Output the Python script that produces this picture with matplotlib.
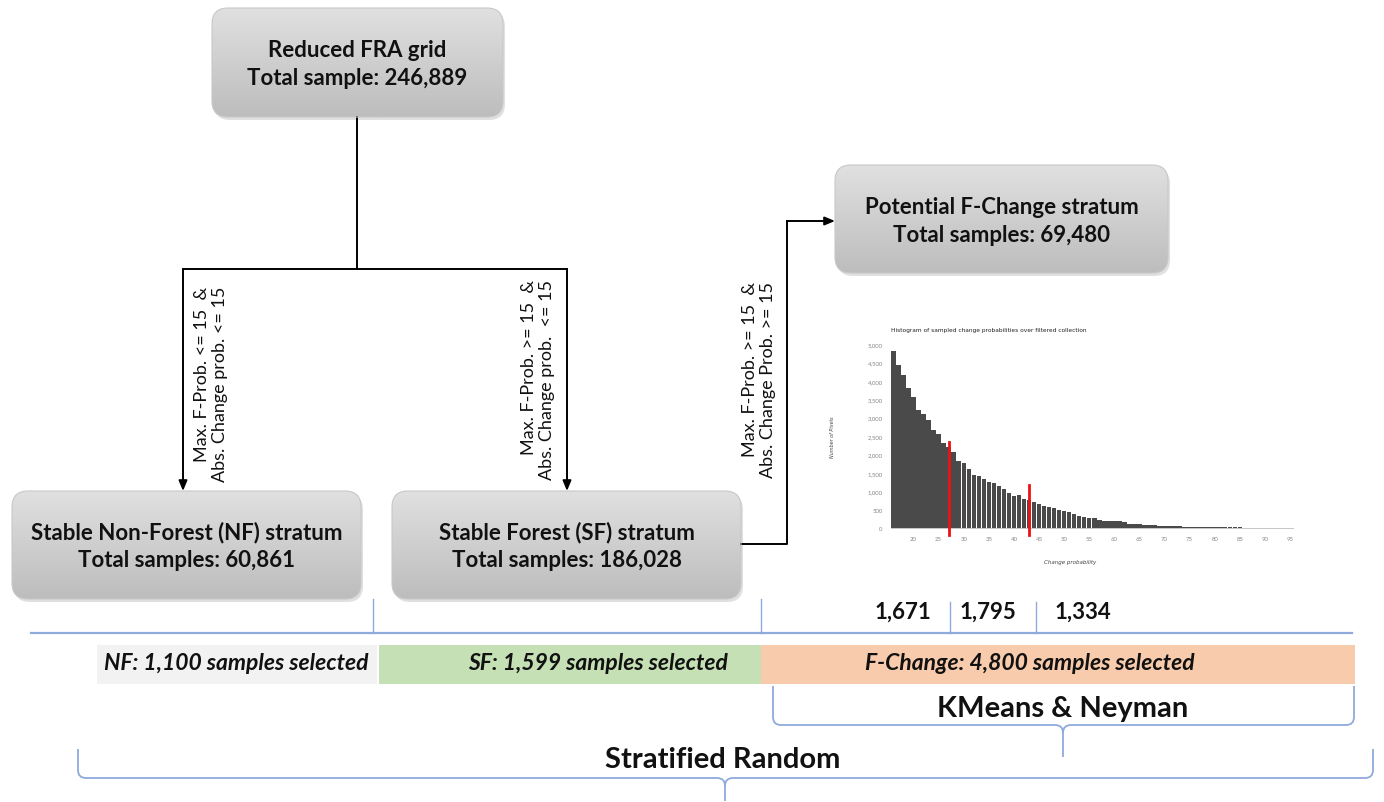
import matplotlib
matplotlib.use('Agg')
import matplotlib.pyplot as plt
from matplotlib.patches import FancyBboxPatch, Rectangle, PathPatch
from matplotlib.path import Path
from matplotlib.colors import LinearSegmentedColormap
from matplotlib.ticker import FuncFormatter
import numpy as np

plt.rcParams['font.family'] = ['Lato', 'DejaVu Sans']

# ---- Data
box_titles = ['Reduced FRA grid', 'Potential F-Change stratum',
              'Stable Non-Forest (NF) stratum', 'Stable Forest (SF) stratum']
box_totals = ['Total sample: 246,889', 'Total samples: 69,480',
              'Total samples: 60,861', 'Total samples: 186,028']
rules = ['Max. F-Prob. <= 15  &\nAbs. Change prob. <= 15',
         'Max. F-Prob. >= 15  &\nAbs. Change prob.  <= 15',
         'Max. F-Prob. >= 15  &\nAbs. Change Prob. >= 15']
cluster_sizes = ['1,671', '1,795', '1,334']
band_labels = ['NF: 1,100 samples selected', 'SF: 1,599 samples selected',
               'F-Change: 4,800 samples selected']
band_colors = ['#f2f2f2', '#c5e0b4', '#f8cbad']
bracket_labels = ['KMeans & Neyman', 'Stratified Random']

hist_bins = np.arange(16, 96)
hist_counts = [4810, 4440, 4150, 3795, 3560, 3205, 3090, 2925, 2665, 2555,
               2310, 2210, 2075, 1820, 1775, 1610, 1440, 1420, 1340, 1240,
               1215, 1140, 1060, 960, 880, 890, 790, 770, 700, 640,
               605, 570, 545, 490, 460, 445, 390, 325, 300, 280,
               270, 225, 200, 190, 180, 180, 170, 120, 110, 100,
               90, 80, 70, 65, 60, 55, 50, 45, 35, 20,
               25, 30, 35, 20, 18, 15, 20, 15, 15, 18,
               12, 10, 12, 10, 10, 8, 8, 6, 6, 5]
breaks = [27.0, 43.05]
break_tops = [2350, 1180]

W, H = 1384, 803
fig = plt.figure(figsize=(W / 100, H / 100), dpi=100)
ax = fig.add_axes([0, 0, 1, 1])
ax.set_xlim(0, W)
ax.set_ylim(H, 0)
ax.axis('off')

gray_cmap = LinearSegmentedColormap.from_list('boxg', ['#bdbdbd', '#e0e0e0'])
grad = np.linspace(0, 1, 64).reshape(-1, 1)


def gray_box(x0, y0, x1, y1, title, total):
    # soft shadow
    sh = FancyBboxPatch((x0 + 2, y0 + 3), x1 - x0, y1 - y0,
                        boxstyle='round,pad=0,rounding_size=16',
                        fc='#9a9a9a', ec='none', alpha=0.3, zorder=1)
    ax.add_patch(sh)
    p = FancyBboxPatch((x0, y0), x1 - x0, y1 - y0,
                       boxstyle='round,pad=0,rounding_size=16',
                       fc='none', ec='#c8c8c8', lw=0.8, zorder=3)
    ax.add_patch(p)
    im = ax.imshow(grad, extent=(x0, x1, y1, y0), cmap=gray_cmap,
                   aspect='auto', zorder=2, origin='lower')
    im.set_clip_path(p)
    yc = (y0 + y1) / 2
    ax.text((x0 + x1) / 2, yc - 13, title, ha='center', va='center',
            fontsize=16, fontweight='bold', color='#111111', zorder=4)
    ax.text((x0 + x1) / 2, yc + 15, total, ha='center', va='center',
            fontsize=16, fontweight='bold', color='#111111', zorder=4)


boxes = [(212, 9, 503, 118), (835, 166, 1168, 274),
         (12, 492, 361, 600), (392, 492, 741, 600)]
for (x0, y0, x1, y1), t, tot in zip(boxes, box_titles, box_totals):
    gray_box(x0, y0, x1, y1, t, tot)

# ---- Connectors
lk = dict(color='black', lw=1.4, zorder=2)
ax.plot([357, 357], [118, 270], **lk)
ax.plot([183, 567], [270, 270], **lk)
aprops = dict(arrowstyle='-|>,head_length=0.6,head_width=0.25',
              color='black', lw=1.4, shrinkA=0, shrinkB=0)
ax.annotate('', xy=(183, 492), xytext=(183, 270), arrowprops=aprops)
ax.annotate('', xy=(567, 492), xytext=(567, 270), arrowprops=aprops)
ax.plot([741, 787, 787], [545, 545, 222], **lk)
ax.annotate('', xy=(835, 222), xytext=(787, 222), arrowprops=aprops)

for xr, yt, txt in zip([211, 538, 759], [287, 280, 282], rules):
    ax.text(xr, yt, txt, rotation=90, ha='center', va='top',
            multialignment='right', fontsize=13, color='#111111',
            linespacing=1.2)

# ---- Histogram inset
hx0, hx1, hy0, hy1 = 891, 1293, 345, 529
hax = fig.add_axes([hx0 / W, 1 - hy1 / H, (hx1 - hx0) / W, (hy1 - hy0) / H])
hax.bar(hist_bins, hist_counts, width=0.9, color='#4a4a4a',
        edgecolor='#4a4a4a', lw=0)
for xb, yt in zip(breaks, break_tops):
    hax.plot([xb, xb], [-200, yt], color='#ee1111', lw=2, clip_on=False,
             zorder=5)
hax.set_xlim(15.5, 95.6)
hax.set_ylim(0, 5000)
hax.set_xticks(np.arange(20, 96, 5))
hax.set_yticks(np.arange(0, 5001, 500))
hax.yaxis.set_major_formatter(FuncFormatter(lambda v, p: f'{int(v):,}'))
hax.tick_params(length=0, labelsize=4.3, labelcolor='#888888', pad=6)
for s in ['top', 'right', 'left']:
    hax.spines[s].set_visible(False)
hax.spines['bottom'].set_color('#bbbbbb')
hax.spines['bottom'].set_linewidth(0.6)
hax.patch.set_alpha(0)
ax.text(hx0, 331, 'Histogram of sampled change probabilities over filtered '
        'collection', fontsize=4.2, va='center', ha='left', color='#222222',
        family='DejaVu Sans')
ax.text(1070, 563, 'Change probability', fontsize=4, style='italic',
        ha='center', va='center', color='#444444', family='DejaVu Sans')
ax.text(832, 437, 'Number of Pixels', fontsize=3.5, style='italic',
        rotation=90, ha='center', va='center', color='#444444',
        family='DejaVu Sans')

# ---- Bottom section
blue = '#8faadc'
ax.plot([31, 1352], [634, 634], color=blue, lw=1.6)
for xv, yt in zip([373, 761, 950, 1036], [600, 600, 603, 603]):
    ax.plot([xv, xv], [yt, 634], color=blue, lw=1)
for xc, lab in zip([903, 988, 1083], cluster_sizes):
    ax.text(xc, 612, lab, ha='center', va='center', fontsize=16,
            fontweight='bold', color='#111111')

band_x = [(97, 377), (379, 761), (761, 1355)]
for (x0, x1), col in zip(band_x, band_colors):
    ax.add_patch(Rectangle((x0, 646), x1 - x0, 39, fc=col, ec='none'))
bk = dict(va='center', fontsize=16.5, fontweight='bold', style='italic',
          color='#111111')
ax.text(369, 664, band_labels[0], ha='right', **bk)
ax.text(598, 664, band_labels[1], ha='center', **bk)
ax.text(1030, 664, band_labels[2], ha='center', **bk)


def brace(x0, x1, xc, ytop, ymid, ybot):
    r = 8
    verts = [(x0, ytop), (x0, ymid - r), (x0, ymid), (x0 + r, ymid),
             (xc - r, ymid), (xc, ymid), (xc, ymid + r), (xc, ybot),
             (xc, ymid + r), (xc, ymid), (xc + r, ymid),
             (x1 - r, ymid), (x1, ymid), (x1, ymid - r), (x1, ytop)]
    codes = [Path.MOVETO, Path.LINETO, Path.CURVE3, Path.CURVE3,
             Path.LINETO, Path.CURVE3, Path.CURVE3, Path.LINETO,
             Path.MOVETO, Path.CURVE3, Path.CURVE3,
             Path.LINETO, Path.CURVE3, Path.CURVE3, Path.LINETO]
    ax.add_patch(PathPatch(Path(verts, codes), fc='none', ec=blue, lw=1.3))


brace(773, 1354, 1063, 687, 726, 758)
brace(78, 1373, 725, 750, 779, 802)
ax.text(1063, 709, bracket_labels[0], ha='center', va='center',
        fontsize=21, fontweight='bold', color='#111111')
ax.text(723, 760, bracket_labels[1], ha='center', va='center',
        fontsize=21, fontweight='bold', color='#111111')

fig.savefig('out.png', dpi=100)
